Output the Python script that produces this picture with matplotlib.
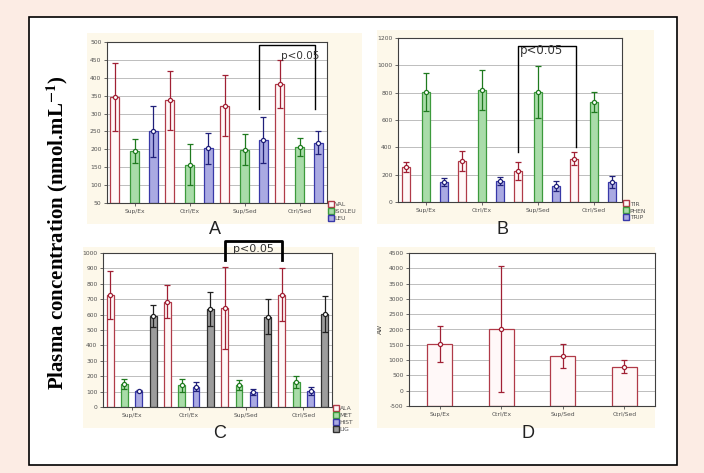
import numpy as np
import matplotlib.pyplot as plt
from matplotlib.lines import Line2D
from matplotlib.patches import Rectangle

groups = ['Sup/Ex', 'Ctrl/Ex', 'Sup/Sed', 'Ctrl/Sed']

# panel A
a_names = ['VAL', 'ISOLEU', 'LEU']
a_val = [345, 337, 322, 382]
a_val_err = [95, 82, 86, 67]
a_isoleu = [195, 157, 199, 207]
a_isoleu_err = [33, 57, 44, 26]
a_leu = [250, 203, 226, 219]
a_leu_err = [72, 43, 65, 32]

# panel B
b_names = ['TIR', 'PHEN', 'TRIP']
b_tir = [258, 300, 228, 318]
b_tir_err = [35, 70, 67, 45]
b_phen = [806, 820, 806, 732]
b_phen_err = [140, 147, 190, 73]
b_trip = [147, 154, 118, 147]
b_trip_err = [29, 31, 34, 46]

# panel C
c_names = ['ALA', 'MET', 'HIST', 'LIG']
c_ala = [728, 685, 641, 728]
c_ala_err = [155, 110, 265, 172]
c_met = [152, 141, 141, 161]
c_met_err = [32, 43, 32, 39]
c_hist = [104, 133, 98, 104]
c_hist_err = [7, 30, 22, 24]
c_lig = [591, 637, 587, 604]
c_lig_err = [70, 108, 114, 115]

# panel D
d_vals = [1540, 2020, 1141, 790]
d_err = [590, 2060, 383, 200]

RED = ('#fff8f8', '#b03a48', '#a02034')
GREEN = ('#a9dca9', '#3c9a3c', '#1f7a1f')
BLUE = ('#aaaae2', '#3838a8', '#20207a')
GRAY = ('#9c9c9c', '#303030', '#202020')

plt.rcParams['mathtext.fontset'] = 'stix'
plt.rcParams['axes.unicode_minus'] = False

W, H = 704, 473
fig = plt.figure(figsize=(W / 100, H / 100), dpi=100)
fig.patch.set_facecolor('#fcece4')


def fr(x0, y0, x1, y1):
    return [x0 / W, 1 - y1 / H, (x1 - x0) / W, (y1 - y0) / H]


fig.patches.append(Rectangle((29 / W, 1 - 465 / H), 648 / W, 448 / H,
                             transform=fig.transFigure, facecolor='white',
                             edgecolor='black', lw=1.2, zorder=-2))
for box in [(87, 33, 362, 224), (377, 30, 654, 224), (83, 247, 359, 428), (377, 247, 655, 428)]:
    b = fr(*box)
    fig.patches.append(Rectangle((b[0], b[1]), b[2], b[3], transform=fig.transFigure,
                                 facecolor='#fdf8ea', edgecolor='none', zorder=-1))


def style_axes(ax, ylo, yhi, step):
    ax.set_facecolor('white')
    ax.set_xlim(-0.5, 3.5)
    ax.set_ylim(ylo, yhi)
    ax.set_yticks(np.arange(ylo, yhi + 1, step))
    ax.set_xticks(range(4))
    ax.set_xticklabels(groups)
    ax.tick_params(labelsize=4.3, colors='#505050', length=2, width=0.6, pad=2)
    ax.yaxis.grid(True, color='#bdbdbd', lw=0.7)
    ax.set_axisbelow(True)
    for s in ax.spines.values():
        s.set_color('#404040')
        s.set_linewidth(0.8)


def draw_series(ax, series, offsets, width, ylo):
    for (vals, errs, col), off in zip(series, offsets):
        fill, edge, ecol = col
        x = np.arange(4) + off
        v = np.array(vals)
        ax.bar(x, v - ylo, bottom=ylo, width=width, facecolor=fill, edgecolor=edge, lw=0.9, zorder=2)
        ax.errorbar(x, v, yerr=errs, fmt='o', ms=3, mfc='white', mec=ecol, color=ecol,
                    elinewidth=0.9, capsize=2.5, capthick=0.9, mew=0.9, zorder=3)


def add_legend(ax, names, cols, y0):
    handles = [Line2D([], [], marker='s', ms=4.5, mfc=c[0], mec=c[1], mew=1, ls='none') for c in cols]
    ax.legend(handles, names, loc='lower left', bbox_to_anchor=(1.0, y0), fontsize=4.3,
              frameon=False, handlelength=0.8, handletextpad=0.3, labelspacing=0.3,
              borderpad=0, borderaxespad=0.2, labelcolor='#505050')


def bracket(ax, x0, x1, ytop, yl, yr, tx, ty, lw, fs):
    ax.plot([x0, x0, x1, x1], [yl, ytop, ytop, yr], color='black', lw=lw, clip_on=False, zorder=5)
    ax.text(tx, ty, 'p<0.05', ha='center', va='center', fontsize=fs, color='#333333', zorder=6)


# A
axA = fig.add_axes(fr(107, 42, 327, 203))
style_axes(axA, 50, 500, 50)
draw_series(axA, [(a_val, a_val_err, RED), (a_isoleu, a_isoleu_err, GREEN), (a_leu, a_leu_err, BLUE)],
            [-0.36, 0, 0.34], 0.17, 50)
add_legend(axA, a_names, [RED, GREEN, BLUE], -0.12)
bracket(axA, 2.26, 3.29, 493, 312, 312, 3.02, 460, 1.0, 7.5)

# B
axB = fig.add_axes(fr(398, 38, 622, 202))
style_axes(axB, 0, 1200, 200)
draw_series(axB, [(b_tir, b_tir_err, RED), (b_phen, b_phen_err, GREEN), (b_trip, b_trip_err, BLUE)],
            [-0.36, 0, 0.32], 0.15, 0)
add_legend(axB, b_names, [RED, GREEN, BLUE], -0.12)
bracket(axB, 1.65, 2.67, 1139, 367, 404, 2.07, 1105, 1.0, 8.5)

# C
axC = fig.add_axes(fr(103, 253, 332, 407))
style_axes(axC, 0, 1000, 100)
draw_series(axC, [(c_ala, c_ala_err, RED), (c_met, c_met_err, GREEN),
                  (c_hist, c_hist_err, BLUE), (c_lig, c_lig_err, GRAY)],
            [-0.375, -0.125, 0.125, 0.375], 0.12, 0)
add_legend(axC, c_names, [RED, GREEN, BLUE, GRAY], -0.17)
bracket(axC, 1.63, 2.63, 1080, 957, 957, 2.12, 1025, 2.0, 8)

# D
axD = fig.add_axes(fr(409, 253, 655, 406))
style_axes(axD, -500, 4500, 500)
draw_series(axD, [(d_vals, d_err, RED)], [0], 0.4, -500)
axD.set_ylabel('AW', fontsize=4.5, color='#404040', labelpad=4)

for lab, x, y in [('A', 215, 230), ('B', 503, 230), ('C', 220, 433), ('D', 528, 433)]:
    fig.text(x / W, 1 - y / H, lab, ha='center', va='center', fontsize=13,
             family='Liberation Sans', color='#222222')

fig.text(57 / W, 1 - 233 / H, r'Plasma concentration (nmol.mL$^{\mathbf{-1}}$)',
         rotation=90, ha='center', va='center', fontsize=15,
         family='Liberation Serif', fontweight='bold')

fig.savefig('out.png', dpi=100, facecolor=fig.get_facecolor())
